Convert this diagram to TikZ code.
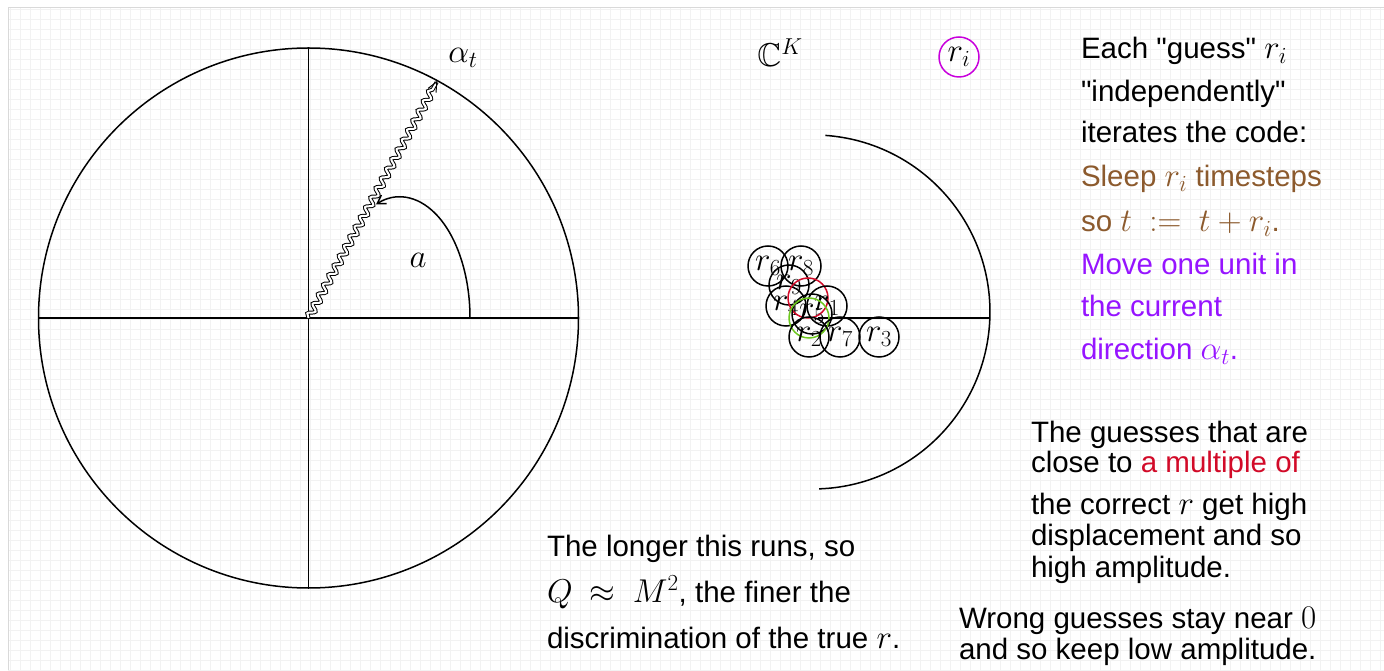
\RequirePackage{fix-cm}
\documentclass[tikz,border=0pt]{standalone}
\usepackage{amssymb}
\usepackage{fontspec}
\setmainfont{Liberation Sans}[Ligatures=TeXOff]
\DeclareMathSizes{29.5}{33}{23}{17}
\usetikzlibrary{decorations.pathmorphing,arrows.meta}
\definecolor{brownc}{RGB}{140,90,45}
\definecolor{purplec}{RGB}{150,20,255}
\definecolor{redc}{RGB}{210,10,40}
\definecolor{magc}{RGB}{200,0,220}
\definecolor{greenc}{RGB}{110,200,30}
\begin{document}
\begin{tikzpicture}[x=1pt,y=1pt,
  font=\fontsize{29.5pt}{34pt}\selectfont,
  txt/.style={anchor=base west, inner sep=0pt, outer sep=0pt},
  ln/.style={line width=1.5pt},
  guess/.style={circle, draw, line width=1.5pt, minimum size=40pt, inner sep=0pt},
  lbl/.style={inner sep=0pt}]
\useasboundingbox (0,0) rectangle (1384,670);
\fill[white] (0,0) rectangle (1384,670);
\draw[black!5, line width=1pt] (8,0) grid[step=10pt] (1384,662);
\draw[black!15, line width=1pt] (8,0) -- (8,662) -- (1384,662);

% left circle
\coordinate (O) at (308.5,352);
\coordinate (L) at (38,352);
\coordinate (R) at (579,352);
\coordinate (T) at (308.5,622);
\coordinate (B) at (308.5,82);
\draw[ln] (O) circle[radius=270pt];
\draw[ln] (L) -- (R);
\draw[ln] (B) -- (T);
\coordinate (A) at (437.4,589.3);
\draw[line width=1pt, double=white, double distance=2pt,
  decoration={snake, amplitude=3.2pt, segment length=11pt, post length=10pt},
  decorate, -{Straight Barb[length=10pt,width=9pt]}] (O) -- (A);
\coordinate (AS) at (470,352);
\draw[ln, -{Straight Barb[length=8pt,width=10pt]}] (AS) arc[start angle=0, end angle=110, x radius=70pt, y radius=121pt];
\node[lbl] (alab) at (418,410) {$a$};
\node[lbl] (atlab) at (463,612) {$\alpha_t$};

% right space
\node[lbl] (CK) at (780,617) {$\mathbb{C}^K$};
\node[guess, draw=magc] (ri) at (959,613) {$r_i$};
\coordinate (RS) at (825.3,534.6);
\coordinate (HL) at (818,352);
\coordinate (HR) at (990,352);
\draw[ln] (RS) arc[start angle=86, end angle=-88, radius=177pt];
\draw[ln] (HL) -- (HR);

\node[guess] (g6) at (768,404) {$r_6$};
\node[guess] (g8) at (801,404) {$r_8$};
\node[guess] (g9) at (789,385) {$r_9$};
\node[guess] (g4) at (786,364) {$r_4$};
\node[guess, draw=redc] (gr) at (808,372) {};
\node[guess] (g1) at (827,364) {$r_1$};
\node[guess] (g5) at (812,356) {$r_5$};
\node[guess, draw=greenc] (gg) at (809,352) {};
\node[guess] (g2) at (809,333) {$r_2$};
\node[guess] (g7) at (840,333) {$r_7$};
\node[guess] (g3) at (879,333) {$r_3$};

% top right text
\node[txt] (t1) at (1081,611) {Each "guess" $r_i$};
\node[txt] (t2) at (1081,568) {"independently"};
\node[txt] (t3) at (1081,527) {iterates the code:};
\node[txt, text=brownc] (t4) at (1081,483) {Sleep $r_i$ timesteps};
\node[txt, text=brownc] (t5) at (1081,438) {so $t\ :=\ t+r_i$.};
\node[txt, text=purplec] (t6) at (1081,395) {Move one unit in};
\node[txt, text=purplec] (t7) at (1081,353) {the current};
\node[txt, text=purplec] (t8) at (1081,310) {direction $\alpha_t$.};

% middle bottom text
\node[txt] (m1) at (547,114) {The longer this runs, so};
\node[txt] (m2) at (547,68) {$Q\ \approx\ M^2$, the finer the};
\node[txt] (m3) at (547,22) {discrimination of the true $r$.};

% right bottom text
\node[txt] (b1) at (1031,228) {The guesses that are};
\node[txt] (b2) at (1031,197) {close to \textcolor{redc}{a multiple of}};
\node[txt] (b3) at (1031,156) {the correct $r$ get high};
\node[txt] (b4) at (1031,125) {displacement and so};
\node[txt] (b5) at (1031,93) {high amplitude.};
\node[txt] (w1) at (959,42) {Wrong guesses stay near $0$};
\node[txt] (w2) at (959,11) {and so keep low amplitude.};
\end{tikzpicture}
\end{document}
